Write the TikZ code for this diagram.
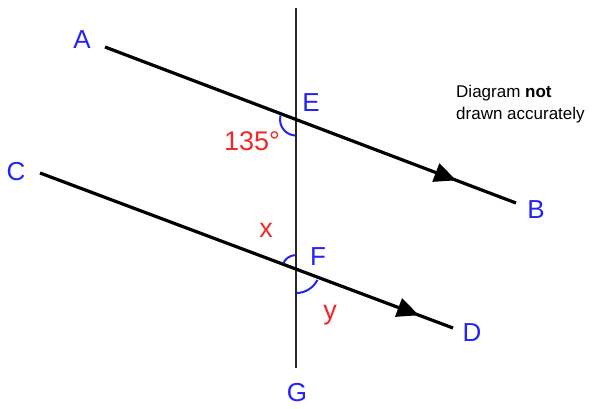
\documentclass[tikz,border=0pt]{standalone}
\usepackage{fontspec}
\setmainfont{Liberation Sans}
\usetikzlibrary{arrows.meta,decorations.markings}
\definecolor{lblue}{RGB}{35,35,245}
\definecolor{lred}{RGB}{240,40,40}
\begin{document}
\begin{tikzpicture}[x=1pt,y=1pt,
  ptline/.style={line width=3.2pt,black},
  vline/.style={line width=2.8pt,black!85},
  angarc/.style={line width=2pt,lblue},
  ptlabel/.style={text=lblue,font=\fontsize{26}{28}\selectfont,inner sep=0pt},
  anglabel/.style={text=lred,font=\fontsize{27}{29}\selectfont,inner sep=0pt},
  note/.style={font=\fontsize{17}{22}\selectfont,align=left,inner sep=0pt,anchor=north west},
  midarrow/.style={postaction={decorate},decoration={markings,
    mark=at position #1 with {\arrow{Triangle[length=22pt,width=19pt]}}}}]
\useasboundingbox (0,0) rectangle (599,408);
% line end points
\coordinate (Aend) at (105,361);
\coordinate (Bend) at (516,205);
\coordinate (Cend) at (40,235);
\coordinate (Dend) at (453,80);
\coordinate (Top) at (296,400);
\coordinate (Bot) at (296,40);
\coordinate (E) at (intersection of Aend--Bend and Top--Bot);
\coordinate (F) at (intersection of Cend--Dend and Top--Bot);
% lines
\draw[vline] (Top) -- (Bot);
\draw[ptline,midarrow=0.855] (Aend) -- (Bend);
\draw[ptline,midarrow=0.918] (Cend) -- (Dend);
% angle arcs
\draw[angarc] ([shift={(165:16)}]E) arc[start angle=165,end angle=266,radius=16];
\draw[angarc] ([shift={(95:14)}]F) arc[start angle=95,end angle=155,radius=14];
\draw[angarc] ([shift={(272:24)}]F) arc[start angle=272,end angle=333,radius=24];
% point labels
\node[ptlabel] (lA) at (82,368) {A};
\node[ptlabel] (lB) at (536,198) {B};
\node[ptlabel] (lC) at (16,236) {C};
\node[ptlabel] (lD) at (472,75) {D};
\node[ptlabel] (lE) at (311,305) {E};
\node[ptlabel] (lF) at (318,151) {F};
\node[ptlabel] (lG) at (297,15) {G};
% angle labels
\node[anglabel] (l135) at (252,267) {135°};
\node[anglabel] (lx) at (266,178) {x};
\node[anglabel] (ly) at (330,93) {y};
% note
\node[note] (nt) at (456,323) {Diagram \textbf{not}\\drawn accurately};
\end{tikzpicture}
\end{document}
